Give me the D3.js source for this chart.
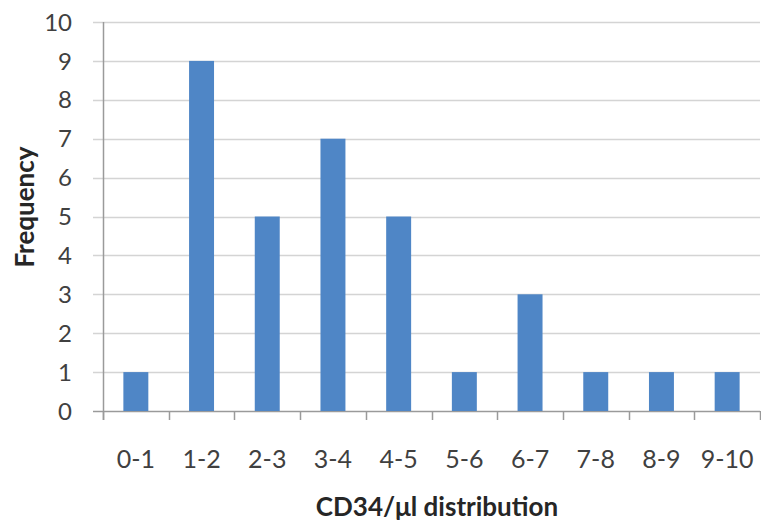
<!DOCTYPE html>
<html><head><meta charset="utf-8">
<script src="https://cdn.jsdelivr.net/npm/d3@7"></script>
<style>
html,body{margin:0;padding:0;background:#fff;}
svg{display:block;font-family:Lato,"Open Sans",sans-serif;}
</style></head>
<body><svg id="c" width="761" height="527"></svg>
<script>
const categories = ["0-1","1-2","2-3","3-4","4-5","5-6","6-7","7-8","8-9","9-10"];
const frequency = [1,9,5,7,5,1,3,1,1,1];
const yTicks = [0,1,2,3,4,5,6,7,8,9,10];
const xTitle = "CD34/\u03bcl distribution";
const yTitle = "Frequency";

const svg = d3.select("#c");
const m = {left:103, right:761, top:22, bottom:411};
const x = d3.scaleBand().domain(categories).range([m.left, 760]).paddingInner(0.62).paddingOuter(0.31);
const y = d3.scaleLinear().domain([0,10]).range([m.bottom, m.top]);

// gridlines
svg.append("g").selectAll("line").data(yTicks).join("line")
  .attr("x1", m.left - 10).attr("x2", 760)
  .attr("y1", d => Math.round(y(d)) + 0.5).attr("y2", d => Math.round(y(d)) + 0.5)
  .attr("stroke", d => d === 0 ? "#9a9a9a" : "#d4d4d4").attr("stroke-width", 1.5);

// y axis line
svg.append("line").attr("x1", m.left + 0.5).attr("x2", m.left + 0.5)
  .attr("y1", m.top).attr("y2", m.bottom + 9).attr("stroke", "#9a9a9a").attr("stroke-width", 1.5);

// x ticks at band boundaries
const step = x.step();
const bounds = d3.range(categories.length + 1).map(i => m.left + i * step);
svg.append("g").selectAll("line").data(bounds).join("line")
  .attr("x1", d => Math.round(d) + 0.5).attr("x2", d => Math.round(d) + 0.5)
  .attr("y1", m.bottom).attr("y2", m.bottom + 9)
  .attr("stroke", "#9a9a9a").attr("stroke-width", 1.5);

// bars
svg.append("g").selectAll("rect").data(frequency).join("rect")
  .attr("x", (d,i) => x(categories[i]))
  .attr("width", x.bandwidth())
  .attr("y", d => y(d))
  .attr("height", d => y(0) - y(d))
  .attr("fill", "#4f86c6");

// y tick labels
svg.append("g").selectAll("text").data(yTicks).join("text")
  .attr("x", 72).attr("y", d => y(d))
  .attr("dy", "0.36em").attr("text-anchor", "end")
  .attr("font-size", 24).attr("fill", "#404040").text(d => d);

// x tick labels
svg.append("g").selectAll("text").data(categories).join("text")
  .attr("x", d => x(d) + x.bandwidth()/2).attr("y", 468)
  .attr("text-anchor", "middle")
  .attr("font-size", 25).attr("fill", "#404040").text(d => d);

// axis titles
svg.append("text").attr("x", 437).attr("y", 516).attr("text-anchor", "middle")
  .attr("font-size", 26).attr("font-weight", "bold").attr("fill", "#262626").text(xTitle);
svg.append("text").attr("transform", "translate(34,207) rotate(-90)").attr("text-anchor", "middle")
  .attr("font-size", 26).attr("font-weight", "bold").attr("fill", "#262626").text(yTitle);
</script></body></html>
